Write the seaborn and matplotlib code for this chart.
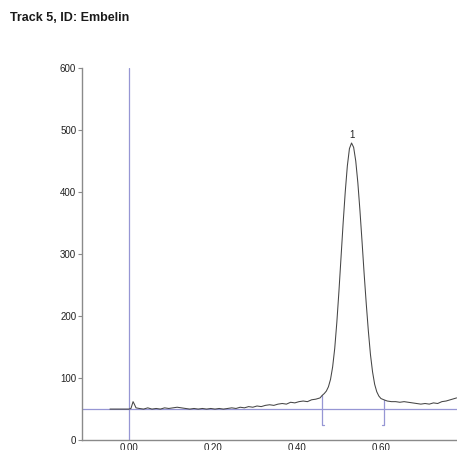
import matplotlib
matplotlib.use("Agg")
import matplotlib.pyplot as plt
import seaborn as sns
import pandas as pd

# Densitogramm Track 5 (Embelin)
rf = [-0.045, -0.010, 0.000, 0.005, 0.010, 0.013, 0.017, 0.025, 0.035, 0.045,
      0.055, 0.065, 0.075, 0.085, 0.095, 0.105, 0.115, 0.125, 0.135, 0.145,
      0.155, 0.165, 0.175, 0.185, 0.195, 0.205, 0.215, 0.225, 0.235, 0.245,
      0.255, 0.265, 0.275, 0.285, 0.295, 0.305, 0.315, 0.325, 0.335, 0.345,
      0.355, 0.365, 0.375, 0.385, 0.395, 0.405, 0.415, 0.425, 0.435, 0.445,
      0.455, 0.460, 0.465, 0.470, 0.475, 0.480, 0.485, 0.490, 0.495, 0.500,
      0.505, 0.510, 0.515, 0.520, 0.525, 0.530, 0.535, 0.540, 0.545, 0.550,
      0.555, 0.560, 0.565, 0.570, 0.575, 0.580, 0.585, 0.590, 0.595, 0.600,
      0.607, 0.615, 0.625, 0.635, 0.645, 0.655, 0.665, 0.675, 0.685, 0.695,
      0.705, 0.715, 0.725, 0.735, 0.745, 0.755, 0.765, 0.780]
au = [50, 50, 50, 51, 62, 58, 52, 51, 50, 52,
      50, 51, 50, 52, 51, 52, 53, 52, 51, 50,
      51, 50, 51, 50, 51, 50, 51, 50, 51, 52,
      51, 53, 52, 54, 53, 55, 54, 56, 57, 56,
      58, 59, 58, 61, 60, 62, 63, 62, 65, 66,
      68, 72, 75, 79, 86, 98, 118, 148, 190, 240,
      295, 350, 400, 442, 470, 479, 472, 450, 415, 370,
      320, 268, 220, 176, 138, 110, 90, 78, 71, 67,
      65, 63, 62, 62, 61, 62, 61, 60, 59, 58,
      59, 58, 60, 59, 62, 63, 65, 68]

baseline = 50
peak_label = "1"
peak_pos = (0.532, 484)
peak_start = 0.460
peak_end = 0.607
start_height = 72
end_height = 65
bracket_bottom = 24

x_ticks = [0.00, 0.20, 0.40, 0.60]
y_ticks = [0, 100, 200, 300, 400, 500, 600]

sns.set_style("white")
plt.rcParams['font.family'] = ['Liberation Sans', 'DejaVu Sans']

fig = plt.figure(figsize=(4.57, 4.5), dpi=100)
ax = fig.add_axes([0.179, 0.022, 0.821, 0.827])

lila = "#9696d4"
df = pd.DataFrame({"rf": rf, "au": au})

ax.axhline(baseline, color=lila, lw=0.9, zorder=1)
ax.axvline(0, color=lila, lw=0.9, zorder=1)
sns.lineplot(data=df, x="rf", y="au", ax=ax, color="#454545", lw=0.75,
             estimator=None, zorder=3)

# Integrationsgrenzen als Klammern
ax.plot([peak_start, peak_start, peak_start + 0.005],
        [start_height, bracket_bottom, bracket_bottom], color=lila, lw=0.9)
ax.plot([peak_end, peak_end, peak_end - 0.005],
        [end_height, bracket_bottom, bracket_bottom], color=lila, lw=0.9)

ax.text(peak_pos[0], peak_pos[1], peak_label, ha="center", va="bottom",
        fontsize=7, color="#222222")

ax.set_xlim(-0.112, 0.781)
ax.set_ylim(0, 600)
ax.set_xticks(x_ticks)
ax.set_xticklabels([f"{t:.2f}" for t in x_ticks])
ax.set_yticks(y_ticks)
ax.set_xlabel("")
ax.set_ylabel("")

for s in ["top", "right"]:
    ax.spines[s].set_visible(False)
for s in ["left", "bottom"]:
    ax.spines[s].set_color("#8a8a8a")
    ax.spines[s].set_linewidth(1.0)

ax.tick_params(axis="y", length=3, width=0.8, color="#8a8a8a", pad=1,
               labelsize=7, labelcolor="#222222", left=True)
ax.tick_params(axis="x", length=0, pad=2, labelsize=7, labelcolor="#222222")

fig.text(0.022, 0.96, "Track 5, ID: Embelin", fontsize=9, fontweight="bold",
         ha="left", va="center", color="#1a1a1a")

fig.savefig("out.png", dpi=100)
